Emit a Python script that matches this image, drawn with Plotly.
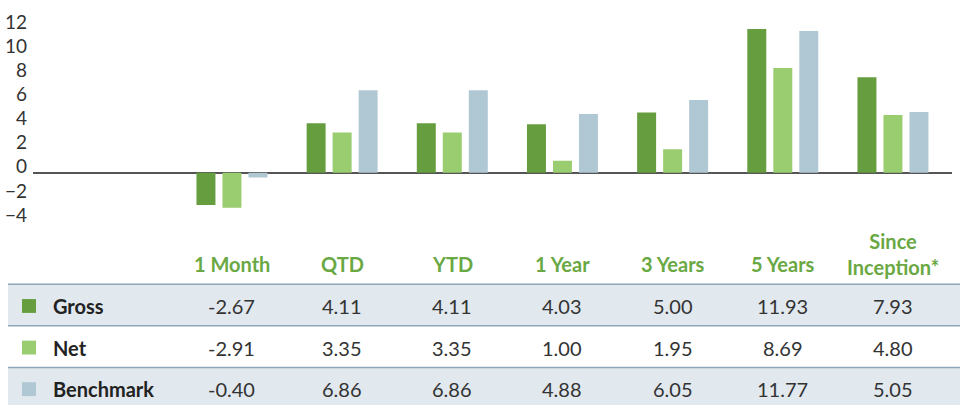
import plotly.graph_objects as go

categories = ["1 Month", "QTD", "YTD", "1 Year", "3 Years", "5 Years", "Since Inception*"]
header_labels = ["1 Month", "QTD", "YTD", "1 Year", "3 Years", "5 Years", "Since<br>Inception*"]
series_names = ["Gross", "Net", "Benchmark"]
gross = [-2.67, 4.11, 4.11, 4.03, 5.00, 11.93, 7.93]
net = [-2.91, 3.35, 3.35, 1.00, 1.95, 8.69, 4.80]
benchmark = [-0.40, 6.86, 6.86, 4.88, 6.05, 11.77, 5.05]
y_ticks = [-4, -2, 0, 2, 4, 6, 8, 10, 12]

colors = ["#669e3f", "#9acd6f", "#b0c8d4"]
series = [gross, net, benchmark]

W, H = 960, 405
def py(p):
    return 1 - p / H
def px(p):
    return p / W

fig = go.Figure()
for name, vals, c in zip(series_names, series, colors):
    fig.add_trace(go.Bar(x=categories, y=vals, name=name, marker=dict(color=c, line=dict(width=0)),
                         showlegend=False, hoverinfo="x+y+name"))

FONT = "Lato"
fig.update_layout(
    width=W, height=H, margin=dict(l=0, r=0, t=0, b=0),
    paper_bgcolor="white", plot_bgcolor="white",
    barmode="group", bargap=0.292, bargroupgap=0.27,
    font=dict(family=FONT, size=19, color="#333333"),
    xaxis=dict(domain=[px(33), px(952)], range=[-1.806, 6.536], showticklabels=False,
               showgrid=False, zeroline=False, showline=False, fixedrange=True),
    yaxis=dict(domain=[py(225), py(10)], range=[-4.48, 13.19], tickvals=y_ticks,
               showgrid=False, zeroline=True, zerolinecolor="#555555", zerolinewidth=2,
               showline=False, ticks="", ticklabelstandoff=5, ticklabelshift=-6,
               tickfont=dict(family=FONT, size=19, color="#333333")),
)

shapes = []
row_tops = [283, 325, 367]
row_bottoms = [325, 367, 405]
row_fill = ["#e1e8ee", "white", "#e1e8ee"]
for t, b, f in zip(row_tops, row_bottoms, row_fill):
    shapes.append(dict(type="rect", xref="paper", yref="paper", x0=px(8), x1=1, y0=py(b), y1=py(t),
                       fillcolor=f, line=dict(width=0), layer="below"))
for t in row_tops:
    shapes.append(dict(type="line", xref="paper", yref="paper", x0=px(8), x1=1, y0=py(t), y1=py(t),
                       line=dict(color="#8ea6b6", width=1.5)))

row_centers = [305, 347, 389]
annotations = []
for i, (name, vals, c) in enumerate(zip(series_names, series, colors)):
    yc = row_centers[i]
    shapes.append(dict(type="rect", xref="paper", yref="paper", x0=px(22), x1=px(36),
                       y0=py(yc + 7), y1=py(yc - 7), fillcolor=c, line=dict(width=0)))
    annotations.append(dict(text="<b>%s</b>" % name, xref="paper", yref="paper", x=px(51), y=py(yc),
                            xanchor="left", yanchor="middle", showarrow=False,
                            font=dict(family=FONT, size=20, color="#222222")))
    for cat, v in zip(categories, vals):
        annotations.append(dict(text="%.2f" % v, xref="x", yref="paper", x=cat, y=py(yc),
                                xanchor="center", yanchor="middle", showarrow=False,
                                font=dict(family=FONT, size=20, color="#333333")))

for cat, lab in zip(categories, header_labels):
    two = "<br>" in lab
    annotations.append(dict(text="<b>%s</b>" % lab, xref="x", yref="paper", x=cat,
                            y=py(252 if two else 263), xanchor="center", yanchor="middle",
                            showarrow=False,
                            font=dict(family=FONT, size=20, color="#69a843")))

fig.update_layout(shapes=shapes, annotations=annotations)

page_fix = (
    "var de=document.documentElement, b=document.body;"
    "de.style.margin='0';de.style.padding='0';de.style.height='405px';de.style.overflow='hidden';"
    "b.style.margin='0';b.style.padding='0';b.style.height='405px';b.style.overflow='hidden';"
)
fig.write_html("out.html", post_script=page_fix)
